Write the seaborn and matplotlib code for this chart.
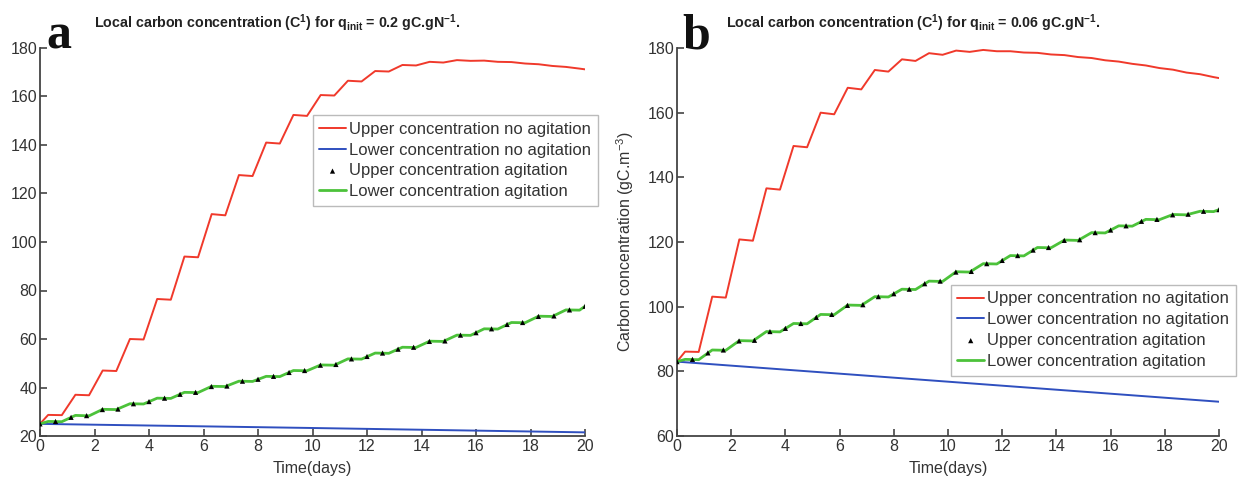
import pandas as pd
import matplotlib.pyplot as plt
import seaborn as sns

# stair vertices (days)
t_steps = [0, 0.3, 0.8, 1.3, 1.8, 2.3, 2.8, 3.3, 3.8, 4.3, 4.8, 5.3, 5.8, 6.3, 6.8,
           7.3, 7.8, 8.3, 8.8, 9.3, 9.8, 10.3, 10.8, 11.3, 11.8, 12.3, 12.8, 13.3,
           13.8, 14.3, 14.8, 15.3, 15.8, 16.3, 16.8, 17.3, 17.8, 18.3, 18.8, 19.3,
           19.8, 20]
t_marks = [0, 0.57, 1.14, 1.71, 2.29, 2.86, 3.43, 4.0, 4.57, 5.14, 5.71, 6.29, 6.86,
           7.43, 8.0, 8.57, 9.14, 9.71, 10.29, 10.86, 11.43, 12.0, 12.57, 13.14,
           13.71, 14.29, 14.86, 15.43, 16.0, 16.57, 17.14, 17.71, 18.29, 18.86,
           19.43, 20.0]
t_lin = [0, 10, 20]

# panel a : q_init = 0.2
upper_a = [25, 28.7, 28.6, 37, 36.8, 47, 46.8, 60, 59.8, 76.5, 76.2, 94, 93.7,
           111.5, 111, 127.6, 127.2, 141, 140.6, 152.4, 152, 160.6, 160.4, 166.5,
           166.2, 170.5, 170.3, 173, 172.8, 174.3, 174, 175, 174.7, 174.8, 174.3,
           174.2, 173.6, 173.3, 172.6, 172.2, 171.5, 171.2]
lower_a = [25, 23.3, 21.5]
agit_a = [25, 26.0, 25.9, 28.5, 28.3, 31.0, 30.9, 33.3, 33.2, 35.6, 35.5, 38.0, 37.9,
          40.5, 40.4, 42.6, 42.5, 44.6, 44.5, 47.0, 46.9, 49.3, 49.2, 51.8, 51.7,
          54.2, 54.1, 56.6, 56.5, 59.1, 59.0, 61.6, 61.5, 64.2, 64.1, 66.8, 66.7,
          69.4, 69.3, 72.0, 71.9, 73.5]
agit_up_a = [25, 26.0, 27.7, 28.4, 30.9, 31.1, 33.3, 34.2, 35.6, 37.2, 38.0, 40.4,
             40.6, 42.6, 43.4, 44.6, 46.2, 47.0, 49.2, 49.5, 51.8, 52.8, 54.2, 55.8,
             56.6, 59.0, 59.2, 61.6, 62.6, 64.2, 66.0, 66.8, 69.3, 69.5, 72.0, 73.5]

# panel b : q_init = 0.06
upper_b = [83, 86.1, 86.0, 103.1, 102.8, 120.8, 120.4, 136.6, 136.2, 149.7, 149.3,
           160, 159.5, 167.7, 167.2, 173.2, 172.7, 176.5, 176, 178.4, 177.9, 179.2,
           178.8, 179.4, 179, 179, 178.6, 178.5, 178, 177.8, 177.2, 176.9, 176.2,
           175.8, 175.1, 174.6, 173.8, 173.3, 172.4, 171.9, 171, 170.7]
lower_b = [83, 76.8, 70.6]
agit_b = [83, 83.7, 83.6, 86.6, 86.5, 89.5, 89.4, 92.3, 92.2, 94.8, 94.7, 97.6, 97.5,
          100.5, 100.4, 103.1, 103.0, 105.4, 105.3, 107.9, 107.8, 110.8, 110.7,
          113.3, 113.2, 115.8, 115.7, 118.3, 118.2, 120.6, 120.5, 122.9, 122.8,
          125.0, 124.9, 127.0, 126.9, 128.5, 128.4, 129.5, 129.4, 130.0]
agit_up_b = [83, 83.7, 85.7, 86.6, 89.4, 89.6, 92.3, 93.3, 94.8, 96.7, 97.6, 100.4,
             100.6, 103.1, 104.0, 105.4, 107.1, 107.9, 110.7, 110.9, 113.3, 114.3,
             115.8, 117.5, 118.3, 120.5, 120.7, 122.9, 123.7, 125.0, 126.4, 127.0,
             128.4, 128.6, 129.5, 130.0]

labels = ['Upper concentration no agitation', 'Lower concentration no agitation',
          'Upper concentration agitation', 'Lower concentration agitation']
titles = [r'Local carbon concentration (C$^\mathbf{1}$) for q$_\mathbf{init}$ = 0.2 gC.gN$^\mathbf{-1}$.',
          r'Local carbon concentration (C$^\mathbf{1}$) for q$_\mathbf{init}$ = 0.06 gC.gN$^\mathbf{-1}$.']

sns.set_style('white')
plt.rcParams['font.family'] = ['Liberation Sans', 'DejaVu Sans']
plt.rcParams['mathtext.fontset'] = 'custom'
plt.rcParams['mathtext.rm'] = 'Liberation Sans'
plt.rcParams['mathtext.bf'] = 'Liberation Sans:bold'

fig = plt.figure(figsize=(12.44, 4.82), dpi=100)
ax1 = fig.add_axes([40 / 1244, 46 / 482, 545 / 1244, 388 / 482])
ax2 = fig.add_axes([677 / 1244, 46 / 482, 542 / 1244, 388 / 482])

# legend anchor and title start (axes fraction) per panel
panels = [
    (ax1, upper_a, lower_a, agit_a, agit_up_a, (20, 180), 'a', (0.50, 0.827), 0.10),
    (ax2, upper_b, lower_b, agit_b, agit_up_b, (60, 180), 'b', (0.505, 0.39), 0.09),
]

for i, (ax, up, low, ag, ag_up, ylim, letter, leg, tx) in enumerate(panels):
    sns.lineplot(x=t_steps, y=up, ax=ax, color='#f0392b', lw=1.4, label=labels[0], estimator=None)
    sns.lineplot(x=t_lin, y=low, ax=ax, color='#2f4fbf', lw=1.4, label=labels[1], estimator=None)
    sns.lineplot(x=t_steps, y=ag, ax=ax, color='#4cc23a', lw=2.0, label=labels[3], estimator=None)
    sns.scatterplot(x=t_marks, y=ag_up, ax=ax, marker='^', color='black', s=14,
                    edgecolor='none', label=labels[2], zorder=5)

    ax.set_xlim(0, 20)
    ax.set_ylim(*ylim)
    ax.set_xticks(range(0, 21, 2))
    ax.set_yticks(range(ylim[0], ylim[1] + 1, 20))
    for s in ['top', 'right']:
        ax.spines[s].set_visible(False)
    for s in ['left', 'bottom']:
        ax.spines[s].set_color('#444444')
        ax.spines[s].set_linewidth(1.3)
    ax.tick_params(direction='in', length=5, width=1.2, color='#444444',
                   labelsize=11.5, labelcolor='#333333', pad=2, left=True, bottom=True)
    ax.set_xlabel('Time(days)', fontsize=11.5, color='#333333', labelpad=5)
    ax.set_ylabel(r'Carbon concentration (gC.m$^{-3}$)', fontsize=11.5, color='#333333', labelpad=8)
    ax.text(tx, 1.065, titles[i], transform=ax.transAxes, ha='left', va='center',
            fontsize=10.3, fontweight='bold', color='#222222')
    ax.text(0.035, 1.03, letter, transform=ax.transAxes, ha='center', va='center',
            fontsize=36, fontweight='bold', family='Liberation Serif', color='#111111')

    h, l = ax.get_legend_handles_labels()
    order = [l.index(lab) for lab in labels]
    lg = ax.legend([h[k] for k in order], [l[k] for k in order], loc='upper left',
                   bbox_to_anchor=leg, fontsize=12, frameon=True,
                   fancybox=False, edgecolor='#aaaaaa', handlelength=1.6,
                   handletextpad=0.2, borderpad=0.4, labelspacing=0.35,
                   borderaxespad=0)
    lg.get_frame().set_linewidth(1.0)
    for txt in lg.get_texts():
        txt.set_color('#333333')

fig.savefig('out.png', dpi=100)
